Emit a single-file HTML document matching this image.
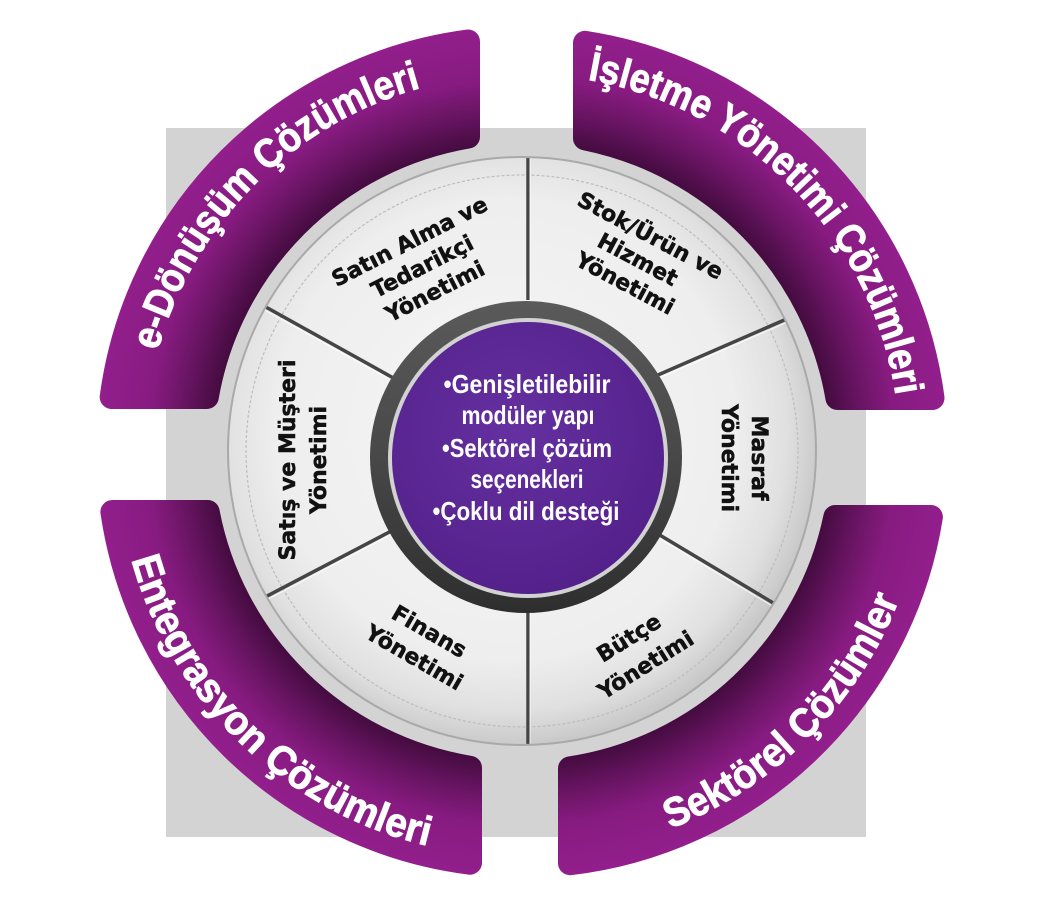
<!DOCTYPE html>
<html><head><meta charset="utf-8">
<style>
html,body{margin:0;padding:0;background:#fff;width:1052px;height:920px;overflow:hidden;}
svg{display:block;}
</style></head>
<body>
<svg width="1052" height="920" viewBox="0 0 1052 920" xmlns="http://www.w3.org/2000/svg">
<defs>
  <radialGradient id="band" gradientUnits="userSpaceOnUse" cx="522" cy="452" r="430">
    <stop offset="0.70" stop-color="#3d0a39"/>
    <stop offset="0.74" stop-color="#4f0e4a"/>
    <stop offset="0.80" stop-color="#6b1565"/>
    <stop offset="0.87" stop-color="#871b81"/>
    <stop offset="1" stop-color="#931f8d"/>
  </radialGradient>
  <radialGradient id="wheel" gradientUnits="userSpaceOnUse" cx="505" cy="430" r="320">
    <stop offset="0" stop-color="#f6f6f6"/>
    <stop offset="0.72" stop-color="#eeeeee"/>
    <stop offset="0.88" stop-color="#e0e0e0"/>
    <stop offset="1" stop-color="#c6c6c6"/>
  </radialGradient>
  <radialGradient id="purp" cx="0.45" cy="0.4" r="0.65">
    <stop offset="0" stop-color="#6530a0"/>
    <stop offset="1" stop-color="#53208a"/>
  </radialGradient>
  <linearGradient id="ring" x1="0" y1="0" x2="0" y2="1">
    <stop offset="0" stop-color="#5a5a5a"/>
    <stop offset="0.5" stop-color="#484848"/>
    <stop offset="1" stop-color="#2e2e2e"/>
  </linearGradient>
  <clipPath id="wc"><circle cx="522" cy="451" r="294"/></clipPath>
  <path id="pTL" d="M157.8,351 A378,378 0 0 1 421,87.8"/>
  <path id="pTR" d="M587.6,79.7 A378,378 0 0 1 895.8,396.1"/>
  <path id="pBL" d="M131.5,559.6 A405,405 0 0 0 428.2,846"/>
  <path id="pBR" d="M670.4,828.8 A405,405 0 0 0 899.3,599.1"/>
</defs>

<!-- gray square -->
<rect x="166" y="128" width="700" height="709" fill="#d3d3d3"/>

<!-- purple bands -->
<g fill="url(#band)" stroke="url(#band)" stroke-width="24" stroke-linejoin="round">
  <path d="M468,41.5 A414,414 0 0 0 111.7,397 L206.8,397 A320,320 0 0 1 468,136.6 Z"/>
  <path d="M585,42.8 A414,414 0 0 1 932.5,398 L837.4,398 A320,320 0 0 0 585,138.3 Z"/>
  <path d="M112.4,512 A414,414 0 0 0 470,862.7 L470,767.8 A320,320 0 0 1 207.7,512 Z"/>
  <path d="M570,863.2 A414,414 0 0 0 930.9,517 L835.3,517 A320,320 0 0 1 570,768.4 Z"/>
</g>

<!-- band texts -->
<g font-family="'Liberation Sans', sans-serif" font-weight="bold" font-size="41" fill="#ffffff" stroke="#ffffff" stroke-width="0.9">
  <text><textPath href="#pTL" textLength="389" lengthAdjust="spacingAndGlyphs">e-Dönüşüm Çözümleri</textPath></text>
  <text><textPath href="#pTR" textLength="471" lengthAdjust="spacingAndGlyphs">İşletme Yönetimi Çözümleri</textPath></text>
  <text><textPath href="#pBL" textLength="432" lengthAdjust="spacingAndGlyphs">Entegrasyon Çözümleri</textPath></text>
  <text><textPath href="#pBR" textLength="333" lengthAdjust="spacingAndGlyphs">Sektörel Çözümler</textPath></text>
</g>

<!-- wheel -->
<circle cx="522" cy="451" r="294" fill="url(#wheel)"/>
<g clip-path="url(#wc)">
  <circle cx="522" cy="451" r="276" fill="none" stroke="#bdbdbd" stroke-width="1.2" stroke-dasharray="3 2"/>
  <g stroke="#454545" stroke-width="3.5" stroke-linecap="butt">
    <line x1="528" y1="300" x2="528" y2="140"/>
    <line x1="528" y1="600" x2="528" y2="770"/>
    <line x1="397" y1="380" x2="255" y2="301"/>
    <line x1="651" y1="378" x2="805" y2="311"/>
    <line x1="643" y1="525" x2="795" y2="616"/>
    <line x1="397" y1="528" x2="250" y2="605"/>
  </g>
  <g stroke="#ffffff" stroke-width="1" opacity="0.8">
    <line x1="530" y1="300" x2="530" y2="140"/>
    <line x1="530" y1="600" x2="530" y2="770"/>
    <line x1="396" y1="383" x2="254" y2="304"/>
    <line x1="652" y1="381" x2="806" y2="314"/>
    <line x1="642" y1="528" x2="794" y2="619"/>
    <line x1="398" y1="531" x2="251" y2="608"/>
  </g>
</g>
<circle cx="522" cy="451" r="294" fill="none" stroke="#a9a9a9" stroke-width="2"/>

<!-- inner ring + purple core -->
<circle cx="526" cy="457" r="156" fill="url(#ring)"/>
<circle cx="528" cy="458" r="140" fill="#d2d2d2"/>
<circle cx="528" cy="458" r="136" fill="url(#purp)"/>

<!-- center text -->
<g font-family="'Liberation Sans', sans-serif" font-weight="bold" font-size="26" fill="#ffffff" text-anchor="middle">
  <text x="527" y="393" textLength="167" lengthAdjust="spacingAndGlyphs">•Genişletilebilir</text>
  <text x="528" y="424" textLength="133" lengthAdjust="spacingAndGlyphs">modüler yapı</text>
  <text x="527" y="457" textLength="170" lengthAdjust="spacingAndGlyphs">•Sektörel çözüm</text>
  <text x="527" y="488" textLength="113" lengthAdjust="spacingAndGlyphs">seçenekleri</text>
  <text x="526" y="520" textLength="187" lengthAdjust="spacingAndGlyphs">•Çoklu dil desteği</text>
</g>

<!-- segment labels -->
<g font-family="'DejaVu Sans', sans-serif" font-weight="bold" font-size="22" fill="#111111" stroke="#111111" stroke-width="0.5" text-anchor="middle">
  <g transform="translate(422,266) rotate(-27)">
    <text x="0" y="-20">Satın Alma ve</text>
    <text x="0" y="8">Tedarikçi</text>
    <text x="0" y="36">Yönetimi</text>
  </g>
  <g transform="translate(638,259) rotate(28)">
    <text x="0" y="-19">Stok/Ürün ve</text>
    <text x="0" y="8">Hizmet</text>
    <text x="0" y="35">Yönetimi</text>
  </g>
  <g transform="translate(302,460) rotate(-90)">
    <text x="0" y="-7">Satış ve Müşteri</text>
    <text x="0" y="24">Yönetimi</text>
  </g>
  <g transform="translate(745,458) rotate(90)">
    <text x="0" y="-7">Masraf</text>
    <text x="0" y="23">Yönetimi</text>
  </g>
  <g transform="translate(422,644) rotate(30)">
    <text x="0" y="-7">Finans</text>
    <text x="0" y="23">Yönetimi</text>
  </g>
  <g transform="translate(637,651) rotate(-32)">
    <text x="0" y="-8">Bütçe</text>
    <text x="0" y="24">Yönetimi</text>
  </g>
</g>
</svg>
</body></html>
